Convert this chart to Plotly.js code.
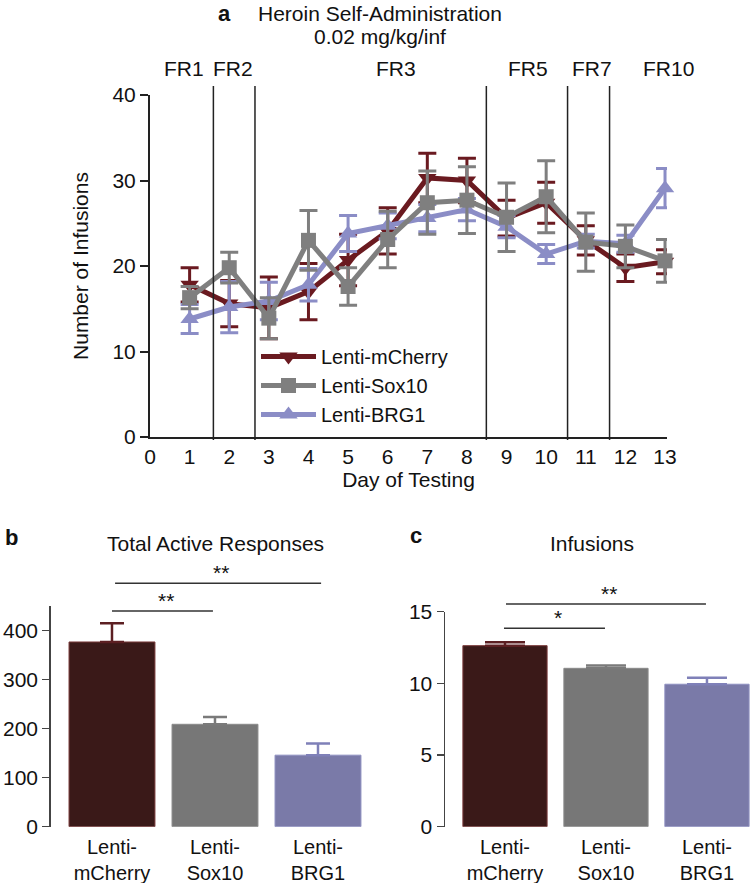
<!DOCTYPE html>
<html>
<head>
<meta charset="utf-8">
<script src="https://cdn.plot.ly/plotly-3.0.1.min.js"></script>
<style>html,body{margin:0;padding:0;background:#fff;}#chart{width:751px;height:883px;}</style>
</head>
<body>
<div id="chart"></div>
<script>
// ---- Panel a data: Heroin self-administration, infusions per day ----
const days = [1, 2, 3, 4, 5, 6, 7, 8, 9, 10, 11, 12, 13];
const xTicks = [0, 1, 2, 3, 4, 5, 6, 7, 8, 9, 10, 11, 12, 13];
const mCherryMean = [17.8, 15.6, 15.1, 17.0, 20.7, 24.1, 30.3, 30.0, 25.6, 27.4, 23.0, 19.8, 20.5];
const mCherrySem  = [2.0, 2.7, 3.6, 3.3, 3.0, 2.7, 2.9, 2.6, 2.1, 2.4, 1.7, 1.6, 1.4];
const sox10Mean   = [16.3, 19.8, 13.9, 23.0, 17.6, 23.1, 27.4, 27.7, 25.7, 28.1, 22.8, 22.3, 20.6];
const sox10Sem    = [1.3, 1.8, 2.4, 3.5, 2.2, 3.3, 3.7, 3.9, 4.0, 4.2, 3.4, 2.5, 2.5];
const brg1Mean    = [13.8, 15.2, 15.9, 17.8, 23.8, 24.7, 25.6, 26.6, 24.6, 21.4, 22.9, 22.6, 29.1];
const brg1Sem     = [1.7, 3.0, 2.2, 1.9, 2.1, 1.5, 1.6, 1.3, 1.3, 1.1, 0.8, 1.0, 2.3];
const seriesNames = ['Lenti-mCherry', 'Lenti-Sox10', 'Lenti-BRG1'];
const yTicksA = [0, 10, 20, 30, 40];

// schedule phases (label, label centre day) and phase boundaries (day)
const frLabels = ['FR1', 'FR2', 'FR3', 'FR5', 'FR7', 'FR10'];
const frLabelDay = [0.85, 2.1, 6.2, 9.55, 11.15, 13.1];
const frBoundaries = [1.6, 2.65, 8.49, 10.54, 11.6];

// ---- Panel b / c data ----
const groups = ['Lenti-<br>mCherry', 'Lenti-<br>Sox10', 'Lenti-<br>BRG1'];
const activeResponses = [377, 209, 146];
const activeSem = [38, 15, 24];
const infusions = [12.63, 11.05, 9.94];
const infusionsSem = [0.24, 0.19, 0.46];
const yTicksB = [0, 100, 200, 300, 400];
const yTicksC = [0, 5, 10, 15];

// significance brackets: [fromIndex, toIndex, height, label]
const sigB = [[0.03, 2.03, 497, '**'], [0.0, 0.98, 440, '**']];
const sigC = [[0.01, 1.99, 15.54, '**'], [-0.01, 0.99, 13.85, '*']];

// ---- styles ----
const lineColors = ['#6a1a20', '#7f7f7f', '#8b8dc6'];
const barColors = ['#3a1918', '#777777', '#7a7aa8'];
const barEdge = ['#7a3a3a', '#8a8a8a', '#8e8fc0'];
const errColors = ['#5c1f22', '#7a7a7a', '#7f80b8'];
const symbols = ['triangle-down', 'square', 'triangle-up'];
const FONT = 'Liberation Sans, Arial, Helvetica, sans-serif';

const domA = {x: [150 / 751, 667 / 751], y: [1 - 437 / 883, 1 - 95 / 883]};
const domB = {x: [50.7 / 751, 369.5 / 751], y: [1 - 826.7 / 883, 1 - 606.2 / 883]};
const domC = {x: [445 / 751, 1], y: [1 - 826.7 / 883, 1 - 611.7 / 883]};
const rangeA = [0, 13.05], rangeB = [0, 450], rangeC = [0, 15];

const means = [mCherryMean, sox10Mean, brg1Mean];
const sems = [mCherrySem, sox10Sem, brg1Sem];
const drawOrder = [0, 2, 1];
const traces = [];
drawOrder.forEach(function (i) {
  traces.push({
    type: 'scatter', mode: 'lines+markers', name: seriesNames[i],
    x: days, y: means[i], xaxis: 'x', yaxis: 'y',
    legendrank: i + 1, cliponaxis: false,
    line: {color: lineColors[i], width: 5},
    marker: {symbol: symbols[i], size: i === 1 ? 15 : 16, color: lineColors[i]},
    error_y: {type: 'data', array: sems[i], visible: true, color: lineColors[i], thickness: 3, width: 9}
  });
});
function addBars(vals, errs, xa, ya, capw) {
  groups.forEach(function (g, i) {
    traces.push({
      type: 'bar', x: [g], y: [vals[i]], xaxis: xa, yaxis: ya, showlegend: false, cliponaxis: false,
      marker: {color: barColors[i], line: {color: barEdge[i], width: 1}},
      error_y: {type: 'data', symmetric: false, array: [errs[i]], arrayminus: [0], visible: true,
        color: errColors[i], thickness: 2.5, width: capw}
    });
  });
}
addBars(activeResponses, activeSem, 'x2', 'y2', 12);
addBars(infusions, infusionsSem, 'x3', 'y3', 20);

function paperY(dom, range, v) { return dom.y[0] + (v - range[0]) / (range[1] - range[0]) * (dom.y[1] - dom.y[0]); }
function paperX(dom, range, v) { return dom.x[0] + (v - range[0]) / (range[1] - range[0]) * (dom.x[1] - dom.x[0]); }

const shapes = [];
const annotations = [];
frBoundaries.forEach(function (d) {
  shapes.push({type: 'line', xref: 'x', yref: 'paper', x0: d, x1: d, y0: 1 - 440 / 883, y1: 1 - 86 / 883,
    line: {color: '#222', width: 1.5}});
});
frLabels.forEach(function (t, k) {
  annotations.push({text: t, xref: 'paper', yref: 'paper', x: paperX(domA, rangeA, frLabelDay[k]), y: 1 - 68 / 883,
    showarrow: false, xanchor: 'center', yanchor: 'middle', font: {size: 21, color: '#111'}});
});
function addSig(list, xref, dom, range) {
  list.forEach(function (s) {
    const py = paperY(dom, range, s[2]);
    shapes.push({type: 'line', xref: xref, yref: 'paper', x0: s[0], x1: s[1], y0: py, y1: py,
      line: {color: '#333', width: 1.5}});
    annotations.push({text: s[3], xref: xref, yref: 'paper', x: (s[0] + s[1]) / 2 + 0.03, y: py - 3 / 883,
      showarrow: false, xanchor: 'center', yanchor: 'bottom', font: {size: 21, color: '#111'}});
  });
}
addSig(sigB, 'x2', domB, rangeB);
addSig(sigC, 'x3', domC, rangeC);

function addText(t, px, py, size) {
  annotations.push({text: t, xref: 'paper', yref: 'paper', x: px / 751, y: 1 - py / 883,
    showarrow: false, xanchor: 'center', yanchor: 'middle', font: {size: size, color: '#111'}});
}
addText('Heroin Self-Administration', 380, 14, 21);
addText('0.02 mg/kg/inf', 380, 37, 21);
addText('<b>a</b>', 224, 13, 22);
addText('<b>b</b>', 11, 537, 22);
addText('<b>c</b>', 416, 535, 22);
addText('Total Active Responses', 215, 543, 21);
addText('Infusions', 592, 543, 21);

const axCommon = {showgrid: false, zeroline: false, fixedrange: true, tickfont: {size: 21, color: '#111'}};
const layout = {
  width: 751, height: 883, margin: {l: 0, r: 0, t: 0, b: 0},
  paper_bgcolor: '#fff', plot_bgcolor: 'rgba(0,0,0,0)',
  font: {family: FONT, color: '#111'},
  showlegend: true,
  legend: {x: 256 / 751, y: 1 - 337 / 883, xanchor: 'left', yanchor: 'top', bgcolor: 'rgba(0,0,0,0)',
    font: {size: 20, color: '#111'}, itemwidth: 55, tracegroupgap: 0},
  xaxis: Object.assign({}, axCommon, {domain: domA.x, anchor: 'y', range: rangeA, tickmode: 'array',
    tickvals: xTicks, ticks: '', showline: true, linecolor: '#222', linewidth: 2,
    title: {text: 'Day of Testing', font: {size: 21, color: '#111'}, standoff: 2}}),
  yaxis: Object.assign({}, axCommon, {domain: domA.y, anchor: 'x', range: [0, 40], tickmode: 'array',
    tickvals: yTicksA, ticks: 'outside', ticklen: 8, tickwidth: 2, tickcolor: '#222',
    showline: true, linecolor: '#222', linewidth: 2,
    title: {text: 'Number of Infusions', font: {size: 21, color: '#111'}, standoff: 18}}),
  xaxis2: Object.assign({}, axCommon, {domain: domB.x, anchor: 'y2', range: [-0.595, 2.5], type: 'category',
    ticks: '', showline: false, ticklabelstandoff: 6, tickfont: {size: 20, color: '#111'}}),
  yaxis2: Object.assign({}, axCommon, {domain: domB.y, anchor: 'x2', range: rangeB, tickmode: 'array',
    tickvals: yTicksB, ticks: 'outside', ticklen: 7, tickwidth: 1.5, tickcolor: '#444',
    showline: true, linecolor: '#444', linewidth: 1.5}),
  xaxis3: Object.assign({}, axCommon, {domain: domC.x, anchor: 'y3', range: [-0.594, 2.436], type: 'category',
    ticks: '', showline: false, ticklabelstandoff: 6, tickfont: {size: 20, color: '#111'}}),
  yaxis3: Object.assign({}, axCommon, {domain: domC.y, anchor: 'x3', range: rangeC, tickmode: 'array',
    tickvals: yTicksC, ticks: 'outside', ticklen: 7, tickwidth: 1.5, tickcolor: '#444',
    showline: true, linecolor: '#444', linewidth: 1.5}),
  barmode: 'overlay',
  bargap: 0.166,
  shapes: shapes,
  annotations: annotations
};
Plotly.newPlot('chart', traces, layout, {displayModeBar: false, staticPlot: true});
</script>
</body>
</html>
